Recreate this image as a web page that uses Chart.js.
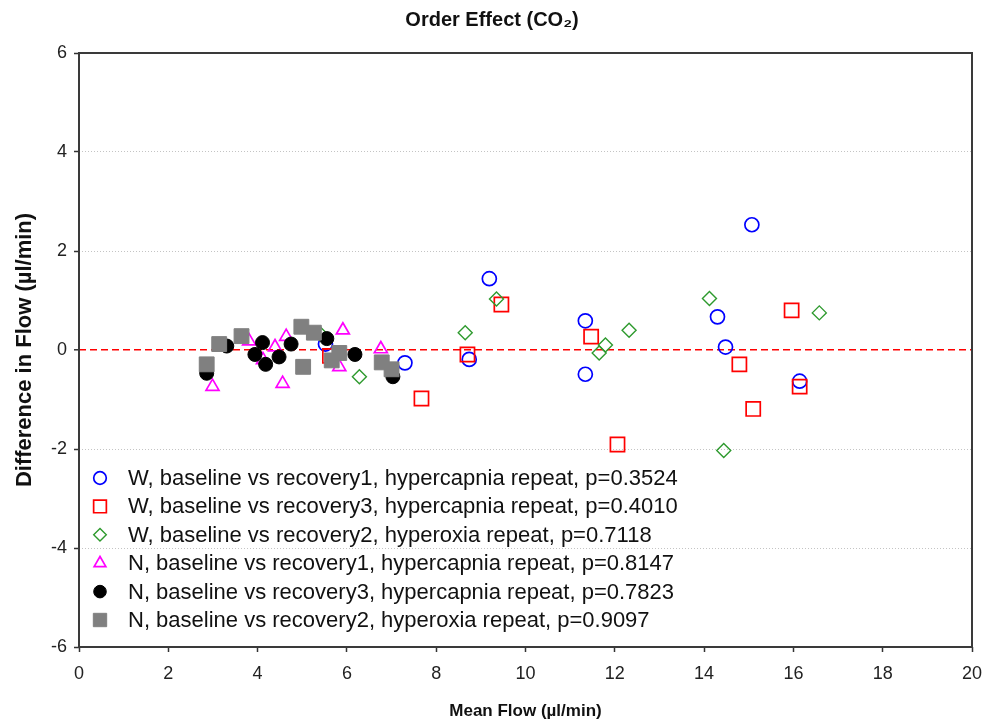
<!DOCTYPE html>
<html>
<head>
<meta charset="utf-8">
<title>Order Effect (CO2)</title>
<script src="https://cdn.jsdelivr.net/npm/chart.js@4.4.1/dist/chart.umd.min.js"></script>
<style>
    html, body { margin: 0; padding: 0; background: #ffffff; }
    #wrap { width: 986px; height: 724px; }
</style>
</head>
<body>
<div id="wrap"><canvas id="orderChart" width="986" height="724"></canvas></div>
<script>
// Axis ticks
const xTicks = [0, 2, 4, 6, 8, 10, 12, 14, 16, 18, 20];
const yTicks = [-6, -4, -2, 0, 2, 4, 6];

// Series labels (legend order)
const seriesLabels = [
    'W, baseline vs recovery1, hypercapnia repeat, p=0.3524',
    'W, baseline vs recovery3, hypercapnia repeat, p=0.4010',
    'W, baseline vs recovery2, hyperoxia repeat, p=0.7118',
    'N, baseline vs recovery1, hypercapnia repeat, p=0.8147',
    'N, baseline vs recovery3, hypercapnia repeat, p=0.7823',
    'N, baseline vs recovery2, hyperoxia repeat, p=0.9097'
];

// Mean flow (x) and difference in flow (y)
const wRec1X = [5.52, 7.30, 8.74, 9.19, 11.34, 11.34, 14.30, 14.48, 15.07, 16.14];
const wRec1Y = [0.12, -0.26, -0.19, 1.44, 0.59, -0.49, 0.67, 0.06, 2.53, -0.63];

const wRec3X = [5.62, 7.67, 8.70, 9.46, 11.47, 12.06, 14.79, 15.10, 15.96, 16.14];
const wRec3Y = [-0.12, -0.98, -0.09, 0.92, 0.27, -1.91, -0.29, -1.19, 0.80, -0.74];

const wHypX = [5.40, 6.28, 8.65, 9.35, 11.65, 11.79, 12.32, 14.12, 14.44, 16.58];
const wHypY = [0.33, -0.54, 0.35, 1.03, -0.06, 0.10, 0.40, 1.04, -2.03, 0.75];

const nRec1X = [2.99, 3.81, 4.12, 4.39, 4.56, 4.64, 5.83, 5.91, 6.76];
const nRec1Y = [-0.74, 0.18, -0.20, 0.06, -0.68, 0.27, -0.34, 0.40, 0.02];

const nRec3X = [2.86, 3.31, 3.94, 4.11, 4.18, 4.48, 4.75, 5.55, 6.18, 7.03];
const nRec3Y = [-0.47, 0.08, -0.09, 0.15, -0.29, -0.14, 0.12, 0.23, -0.09, -0.54];

const nHypX = [2.86, 3.14, 3.64, 4.98, 5.02, 5.26, 5.66, 5.83, 6.78, 7.00];
const nHypY = [-0.29, 0.12, 0.28, 0.47, -0.34, 0.35, -0.21, -0.06, -0.25, -0.39];

const plainFont = "'Liberation Sans', Arial, sans-serif";

function toPoints(xs, ys) {
    return xs.map((x, i) => ({ x: x, y: ys[i] }));
}

// Marker look for each series
const markerStyles = [
    { pointStyle: 'circle',   radius: 7,    color: '#0000ff', fill: 'rgba(0,0,0,0)', width: 1.7 },
    { pointStyle: 'rect',     radius: 10,   color: '#ff0000', fill: 'rgba(0,0,0,0)', width: 1.7 },
    { pointStyle: 'rectRot',  radius: 7,    color: '#2e9a2e', fill: 'rgba(0,0,0,0)', width: 1.4 },
    { pointStyle: 'triangle', radius: 7.5,  color: '#ff00ff', fill: 'rgba(0,0,0,0)', width: 1.7 },
    { pointStyle: 'circle',   radius: 7,    color: '#000000', fill: '#000000',       width: 1 },
    { pointStyle: 'rect',     radius: 10.5, color: '#808080', fill: '#808080',       width: 1 }
];

// Frame round the plot and the legend inside it, bottom left
const framePlugin = {
    id: 'frameAndLegend',
    afterDraw(chart) {
        const ctx = chart.ctx;
        const area = chart.chartArea;
        ctx.save();
        ctx.strokeStyle = '#3a3a3a';
        ctx.lineWidth = 2;
        ctx.strokeRect(area.left, area.top, area.right - area.left, area.bottom - area.top);

        ctx.font = '22px ' + plainFont;
        ctx.textBaseline = 'middle';
        ctx.textAlign = 'left';
        chart.data.datasets.forEach((ds, i) => {
            const st = markerStyles[i];
            const y = 478 + i * 28.4;
            ctx.fillStyle = st.fill;
            ctx.strokeStyle = st.color;
            ctx.lineWidth = st.width;
            Chart.helpers.drawPoint(ctx, {
                pointStyle: st.pointStyle,
                radius: st.radius * 0.9,
                rotation: 0,
                borderWidth: st.width
            }, area.left + 21, y);
            ctx.fillStyle = '#111111';
            ctx.fillText(ds.label, area.left + 49, y + 1);
        });
        ctx.restore();
    }
};

const seriesData = [
    toPoints(wRec1X, wRec1Y),
    toPoints(wRec3X, wRec3Y),
    toPoints(wHypX, wHypY),
    toPoints(nRec1X, nRec1Y),
    toPoints(nRec3X, nRec3Y),
    toPoints(nHypX, nHypY)
];

function buildChart() {
    const ctx = document.getElementById('orderChart').getContext('2d');

    const datasets = seriesData.map((pts, i) => {
        const st = markerStyles[i];
        return {
            label: seriesLabels[i],
            data: pts,
            pointStyle: st.pointStyle,
            pointRadius: st.radius,
            pointBorderWidth: st.width,
            borderColor: st.color,
            backgroundColor: st.fill,
            // first series drawn first, so later ones sit on top
            order: seriesData.length - i
        };
    });

    new Chart(ctx, {
        type: 'scatter',
        data: { datasets: datasets },
        plugins: [framePlugin],
        options: {
            responsive: false,
            animation: false,
            devicePixelRatio: 1,
            layout: { padding: { left: 12, right: 14, top: 0, bottom: 0 } },
            plugins: {
                legend: { display: false },
                tooltip: { enabled: false },
                title: {
                    display: true,
                    text: 'Order Effect (CO\u2082)',
                    color: '#111111',
                    font: { family: plainFont, size: 20, weight: 'bold' },
                    padding: { top: 8, bottom: 21 }
                }
            },
            scales: {
                x: {
                    type: 'linear',
                    min: 0,
                    max: 20,
                    afterBuildTicks: (scale) => {
                        scale.ticks = xTicks.map(v => ({ value: v }));
                    },
                    afterFit: (scale) => {
                        scale.height = 77;
                        scale.paddingRight = 0;
                    },
                    grid: {
                        drawOnChartArea: false,
                        drawTicks: true,
                        tickLength: 5,
                        tickColor: '#333333',
                        tickWidth: 1.5
                    },
                    border: { display: false },
                    ticks: {
                        color: '#222222',
                        padding: 11,
                        font: { family: plainFont, size: 18 }
                    },
                    title: {
                        display: true,
                        text: 'Mean Flow (\u00b5l/min)',
                        color: '#111111',
                        font: { family: plainFont, size: 17, weight: 'bold' },
                        padding: { top: 0, bottom: 2 }
                    }
                },
                y: {
                    type: 'linear',
                    min: -6,
                    max: 6,
                    afterBuildTicks: (scale) => {
                        scale.ticks = yTicks.map(v => ({ value: v }));
                    },
                    afterFit: (scale) => { scale.width = 67; },
                    grid: {
                        drawOnChartArea: true,
                        drawTicks: true,
                        tickLength: 5,
                        tickColor: '#333333',
                        tickWidth: 1.5,
                        tickBorderDash: [],
                        lineWidth: (c) => (c.tick && c.tick.value === 0 ? 1.6 : 1),
                        color: (c) => {
                            if (!c.tick) return '#c8c8c8';
                            if (c.tick.value === 0) return '#ff0000';
                            if (Math.abs(c.tick.value) === 6) return 'rgba(0,0,0,0)';
                            return '#c4c4c4';
                        }
                    },
                    border: {
                        display: false,
                        dash: (c) => (c.tick && c.tick.value === 0 ? [7, 4] : [1, 2])
                    },
                    ticks: {
                        color: '#222222',
                        padding: 7,
                        font: { family: plainFont, size: 18 }
                    },
                    title: {
                        display: true,
                        text: 'Difference in Flow (\u00b5l/min)',
                        color: '#111111',
                        font: { family: plainFont, size: 22, weight: 'bold' },
                        padding: { top: 0, bottom: 0 }
                    }
                }
            }
        }
    });
}

document.addEventListener('DOMContentLoaded', buildChart);
</script>
</body>
</html>
